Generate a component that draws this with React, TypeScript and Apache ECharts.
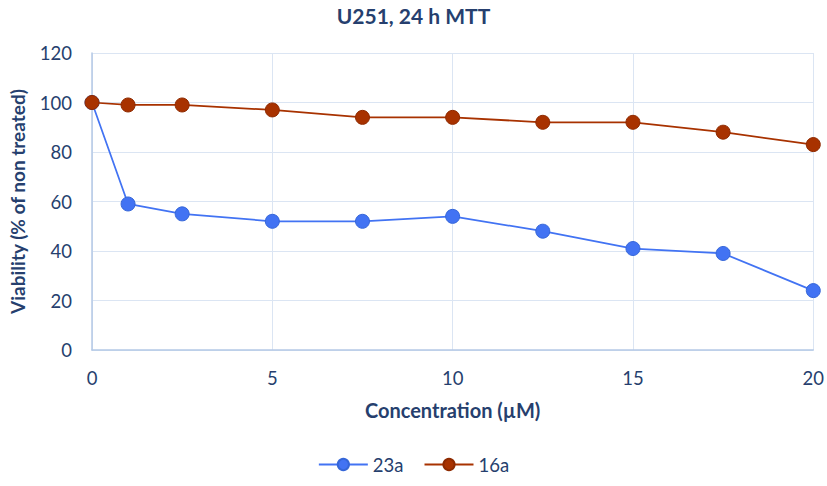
import React, { useEffect, useRef } from "react";
import * as echarts from "echarts";

const concentrations = [0, 1, 2.5, 5, 7.5, 10, 12.5, 15, 17.5, 20];
const values23a = [100, 59, 55, 52, 52, 54, 48, 41, 39, 24];
const values16a = [100, 99, 99, 97, 94, 94, 92, 92, 88, 83];
const seriesNames = ["23a", "16a"];
const seriesColors = ["#4273f3", "#a83200"];

const textColor = "#263f6e";
const fontFamily = "Lato, 'Open Sans', sans-serif";

export default function App() {
  const ref = useRef<HTMLDivElement>(null);
  useEffect(() => {
    if (!ref.current) return;
    const chart = echarts.init(ref.current, undefined, { renderer: "svg" });
    const mk = (vals: number[]) => concentrations.map((c, i) => [c, vals[i]]);
    chart.setOption({
      animation: false,
      backgroundColor: "#ffffff",
      title: {
        text: "U251, 24 h MTT",
        left: "center",
        top: 3,
        padding: 0,
        textStyle: { color: textColor, fontSize: 21, fontWeight: "bold", fontFamily, lineHeight: 24 },
      },
      legend: {
        top: 450,
        left: "center",
        itemWidth: 49,
        itemHeight: 14,
        itemGap: 20,
        textStyle: { color: textColor, fontSize: 18.5, fontFamily },
        data: seriesNames,
      },
      grid: { left: 83, right: 11, top: 53, bottom: 136, containLabel: false },
      xAxis: {
        type: "value",
        min: 0,
        max: 20,
        interval: 5,
        name: "Concentration (µM)",
        nameLocation: "middle",
        nameGap: 50,
        nameTextStyle: { color: textColor, fontSize: 20, fontWeight: "bold", fontFamily },
        axisLine: { show: true, lineStyle: { color: "#b4c9e6", width: 1.5 } },
        axisTick: { show: false },
        axisLabel: { color: textColor, fontSize: 18.5, fontFamily, margin: 18 },
        splitLine: { show: true, lineStyle: { color: "#dbe5f3", width: 1 } },
      },
      yAxis: {
        type: "value",
        min: 0,
        max: 120,
        interval: 20,
        name: "Viability (% of non treated)",
        nameLocation: "middle",
        nameGap: 65,
        nameRotate: 90,
        nameTextStyle: { color: textColor, fontSize: 19, fontWeight: "bold", fontFamily },
        axisLine: { show: true, lineStyle: { color: "#b4c9e6", width: 1.5 } },
        axisTick: { show: false },
        axisLabel: { color: textColor, fontSize: 18.5, fontFamily, margin: 20 },
        splitLine: { show: true, lineStyle: { color: "#dbe5f3", width: 1 } },
      },
      series: [
        {
          name: seriesNames[0],
          type: "line",
          data: mk(values23a),
          symbol: "circle",
          symbolSize: 14,
          lineStyle: { color: seriesColors[0], width: 1.75 },
          itemStyle: { color: seriesColors[0], borderColor: "#3566d8", borderWidth: 1 },
          z: 2,
        },
        {
          name: seriesNames[1],
          type: "line",
          data: mk(values16a),
          symbol: "circle",
          symbolSize: 14,
          lineStyle: { color: seriesColors[1], width: 1.75 },
          itemStyle: { color: seriesColors[1], borderColor: "#8e2a00", borderWidth: 1 },
          z: 3,
        },
      ],
    });
    return () => chart.dispose();
  }, []);
  return <div ref={ref} style={{ width: 827, height: 486, position: "absolute", left: 0, top: 0 }} />;
}
